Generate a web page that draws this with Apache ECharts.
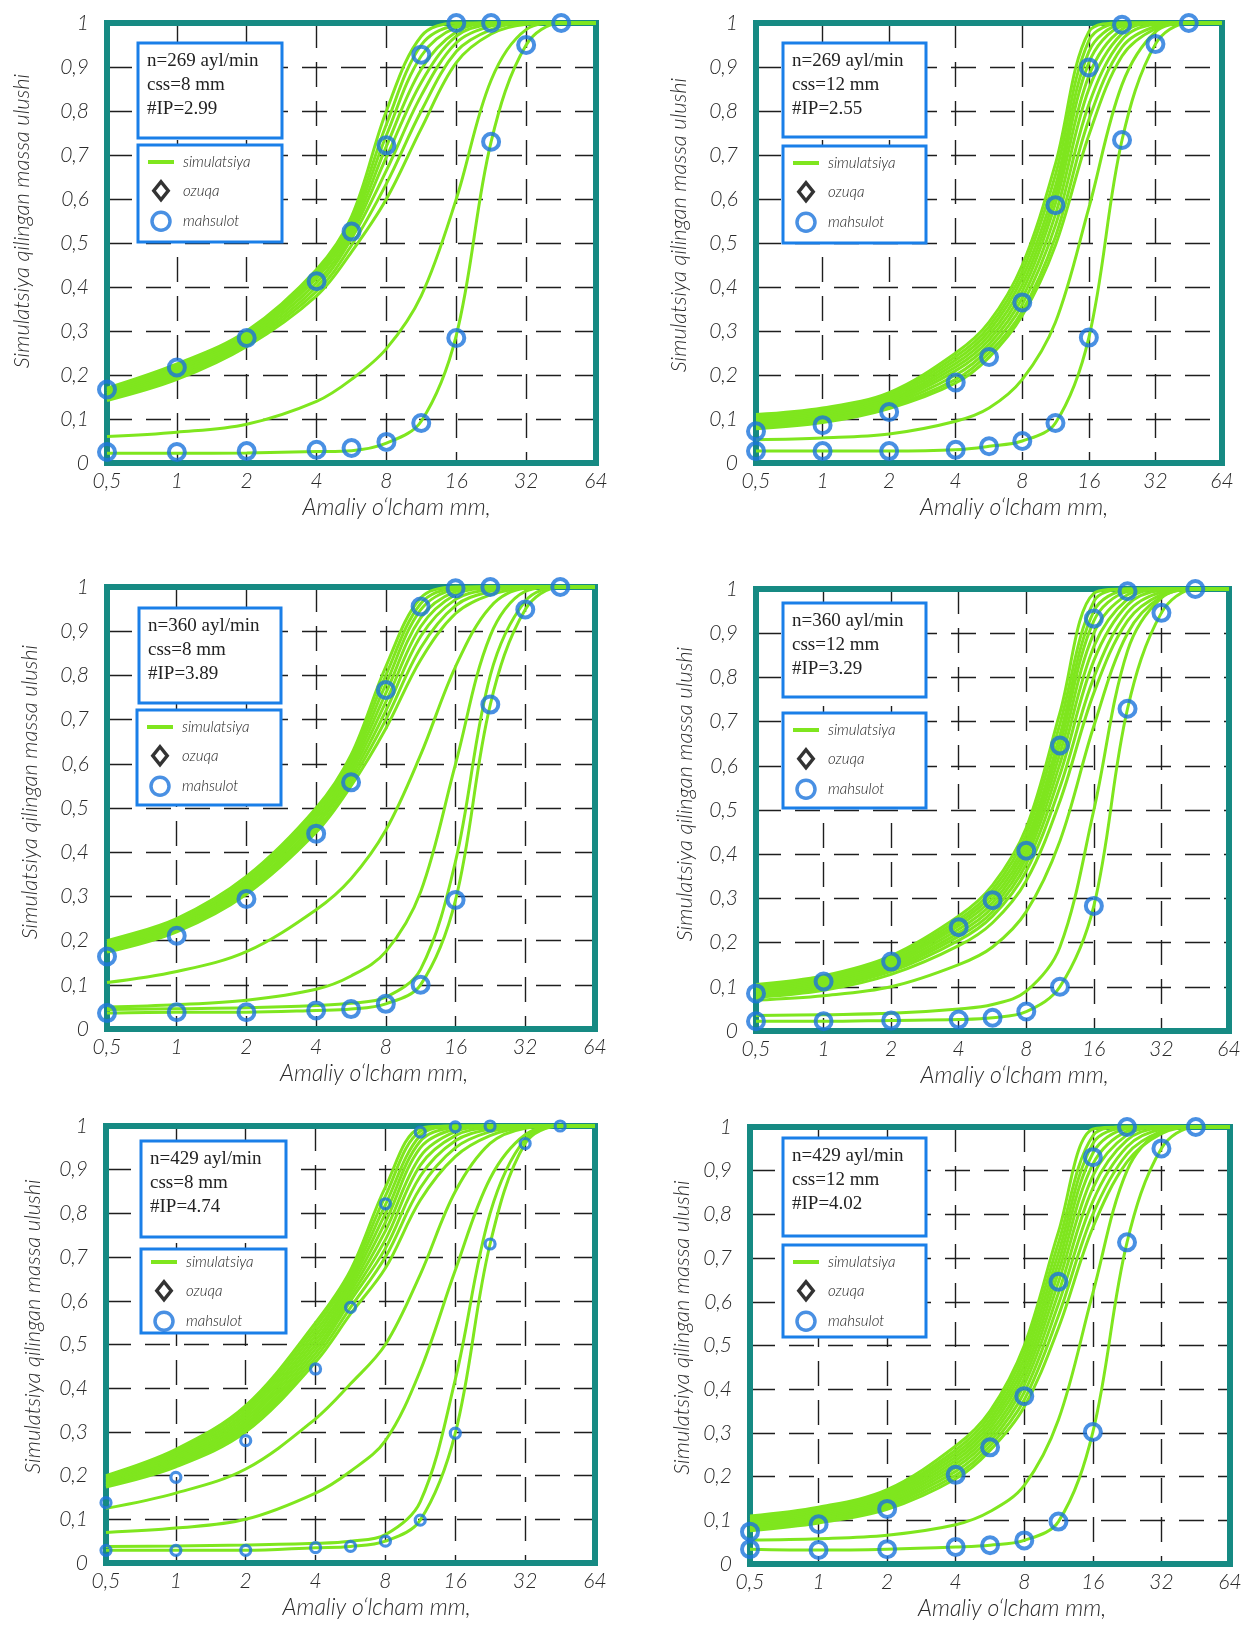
<!DOCTYPE html>
<html>
<head>
<meta charset="utf-8">
<script src="https://cdn.jsdelivr.net/npm/echarts@6/dist/echarts.min.js"></script>
<style>
  html, body { margin: 0; padding: 0; background: #fff; }
  #chart { width: 1249px; height: 1627px; }
</style>
</head>
<body>
<div id="chart"></div>
<script>
// sieve sizes, mm (log2 axis)
const sizes = [0.5, 1, 2, 4, 5.66, 8, 11.3, 16, 22.6, 32, 45.3, 64]
const upperSizes = [0.5, 1, 2, 4, 5.66, 8, 11.3, 16, 22.6]
const lowerSizes = [0.5, 1, 2, 4, 5.66, 8, 11.3, 16, 22.6, 32, 45.3]

const xTickLabels = ['0,5', '1', '2', '4', '8', '16', '32', '64']
const yTickLabels = ['0', '0,1', '0,2', '0,3', '0,4', '0,5', '0,6', '0,7', '0,8', '0,9', '1']

const infoTexts = [
  ['n=269 ayl/min', 'css=8 mm', '#IP=2.99'],
  ['n=269 ayl/min', 'css=12 mm', '#IP=2.55'],
  ['n=360 ayl/min', 'css=8 mm', '#IP=3.89'],
  ['n=360 ayl/min', 'css=12 mm', '#IP=3.29'],
  ['n=429 ayl/min', 'css=8 mm', '#IP=4.74'],
  ['n=429 ayl/min', 'css=12 mm', '#IP=4.02'],
]

// panel 1: n=269, css=8
const p1Sim = [
  [0.17, 0.225, 0.30, 0.44, 0.56, 0.80, 0.97, 1, 1, 1, 1, 1],
  [0.166, 0.22, 0.295, 0.435, 0.55, 0.77, 0.95, 0.995, 1, 1, 1, 1],
  [0.162, 0.215, 0.29, 0.428, 0.54, 0.745, 0.925, 0.99, 1, 1, 1, 1],
  [0.158, 0.21, 0.285, 0.42, 0.53, 0.72, 0.895, 0.98, 1, 1, 1, 1],
  [0.154, 0.205, 0.28, 0.41, 0.52, 0.695, 0.865, 0.97, 0.997, 1, 1, 1],
  [0.15, 0.2, 0.275, 0.40, 0.51, 0.665, 0.835, 0.955, 0.993, 1, 1, 1],
  [0.146, 0.195, 0.27, 0.39, 0.495, 0.635, 0.80, 0.935, 0.985, 1, 1, 1],
  [0.142, 0.19, 0.265, 0.38, 0.48, 0.60, 0.76, 0.91, 0.975, 0.997, 1, 1],
  [0.06, 0.07, 0.088, 0.14, 0.19, 0.26, 0.38, 0.60, 0.87, 0.985, 1, 1],
  [0.022, 0.022, 0.023, 0.026, 0.028, 0.045, 0.095, 0.29, 0.73, 0.95, 1, 1],
]
const p1Upper = [0.167, 0.217, 0.284, 0.413, 0.526, 0.722, 0.928, 1, 1]
const p1Lower = [0.025, 0.025, 0.027, 0.03, 0.034, 0.048, 0.091, 0.284, 0.73, 0.95, 1]

// panel 2: n=269, css=12
const p2Sim = [
  [0.11, 0.125, 0.16, 0.25, 0.32, 0.45, 0.68, 0.98, 1, 1, 1, 1],
  [0.106, 0.12, 0.155, 0.242, 0.31, 0.435, 0.655, 0.96, 1, 1, 1, 1],
  [0.102, 0.116, 0.15, 0.234, 0.30, 0.42, 0.63, 0.935, 0.997, 1, 1, 1],
  [0.098, 0.112, 0.145, 0.226, 0.29, 0.405, 0.61, 0.91, 0.993, 1, 1, 1],
  [0.094, 0.108, 0.14, 0.218, 0.28, 0.39, 0.59, 0.88, 0.986, 1, 1, 1],
  [0.09, 0.104, 0.136, 0.21, 0.27, 0.375, 0.565, 0.85, 0.976, 1, 1, 1],
  [0.086, 0.1, 0.132, 0.2, 0.26, 0.36, 0.54, 0.815, 0.962, 0.997, 1, 1],
  [0.082, 0.096, 0.128, 0.19, 0.25, 0.345, 0.515, 0.78, 0.945, 0.992, 1, 1],
  [0.078, 0.092, 0.124, 0.182, 0.24, 0.335, 0.495, 0.745, 0.925, 0.987, 1, 1],
  [0.053, 0.057, 0.066, 0.095, 0.125, 0.19, 0.32, 0.58, 0.86, 0.98, 1, 1],
  [0.027, 0.027, 0.027, 0.03, 0.038, 0.05, 0.091, 0.285, 0.734, 0.952, 1, 1],
]
const p2Upper = [0.072, 0.086, 0.116, 0.183, 0.241, 0.365, 0.586, 0.899, 0.996]
const p2Lower = [0.027, 0.027, 0.027, 0.03, 0.038, 0.05, 0.091, 0.285, 0.734, 0.952, 1]

// panel 3: n=360, css=8
const p3Sim = [
  [0.2, 0.25, 0.345, 0.5, 0.62, 0.82, 0.975, 1, 1, 1, 1, 1],
  [0.196, 0.245, 0.338, 0.492, 0.61, 0.80, 0.962, 0.998, 1, 1, 1, 1],
  [0.192, 0.24, 0.332, 0.484, 0.60, 0.78, 0.948, 0.995, 1, 1, 1, 1],
  [0.188, 0.236, 0.326, 0.476, 0.59, 0.76, 0.93, 0.99, 1, 1, 1, 1],
  [0.184, 0.232, 0.32, 0.468, 0.58, 0.74, 0.91, 0.983, 0.998, 1, 1, 1],
  [0.18, 0.228, 0.315, 0.46, 0.57, 0.72, 0.888, 0.972, 0.995, 1, 1, 1],
  [0.177, 0.224, 0.31, 0.452, 0.56, 0.70, 0.862, 0.958, 0.99, 1, 1, 1],
  [0.174, 0.22, 0.305, 0.445, 0.55, 0.68, 0.835, 0.94, 0.982, 0.998, 1, 1],
  [0.105, 0.13, 0.175, 0.27, 0.34, 0.45, 0.62, 0.82, 0.955, 0.997, 1, 1],
  [0.05, 0.055, 0.065, 0.09, 0.12, 0.175, 0.31, 0.6, 0.89, 0.99, 1, 1],
  [0.044, 0.046, 0.048, 0.053, 0.058, 0.072, 0.135, 0.38, 0.8, 0.968, 1, 1],
  [0.036, 0.038, 0.038, 0.042, 0.045, 0.057, 0.1, 0.292, 0.734, 0.949, 1, 1],
]
const p3Upper = [0.164, 0.211, 0.294, 0.442, 0.558, 0.767, 0.956, 0.997, 1]
const p3Lower = [0.036, 0.038, 0.038, 0.042, 0.045, 0.057, 0.1, 0.292, 0.734, 0.949, 1]

// panel 4: n=360, css=12
const p4Sim = [
  [0.105, 0.125, 0.17, 0.26, 0.33, 0.46, 0.72, 0.99, 1, 1, 1, 1],
  [0.101, 0.121, 0.165, 0.252, 0.32, 0.445, 0.695, 0.972, 1, 1, 1, 1],
  [0.097, 0.117, 0.16, 0.245, 0.31, 0.43, 0.67, 0.95, 0.998, 1, 1, 1],
  [0.094, 0.113, 0.155, 0.238, 0.30, 0.418, 0.65, 0.928, 0.994, 1, 1, 1],
  [0.09, 0.109, 0.15, 0.23, 0.29, 0.405, 0.628, 0.9, 0.987, 1, 1, 1],
  [0.087, 0.105, 0.145, 0.222, 0.28, 0.392, 0.605, 0.87, 0.977, 1, 1, 1],
  [0.084, 0.101, 0.14, 0.214, 0.27, 0.378, 0.58, 0.838, 0.964, 0.997, 1, 1],
  [0.08, 0.097, 0.135, 0.205, 0.26, 0.362, 0.552, 0.80, 0.947, 0.993, 1, 1],
  [0.076, 0.092, 0.128, 0.193, 0.245, 0.34, 0.52, 0.765, 0.928, 0.988, 1, 1],
  [0.07, 0.08, 0.1, 0.15, 0.19, 0.27, 0.43, 0.69, 0.9, 0.983, 1, 1],
  [0.035, 0.037, 0.04, 0.05, 0.06, 0.09, 0.19, 0.5, 0.86, 0.98, 1, 1],
  [0.022, 0.022, 0.024, 0.026, 0.03, 0.044, 0.1, 0.283, 0.729, 0.946, 1, 1],
]
const p4Upper = [0.085, 0.112, 0.157, 0.235, 0.296, 0.408, 0.646, 0.933, 0.995]
const p4Lower = [0.022, 0.022, 0.024, 0.026, 0.03, 0.044, 0.1, 0.283, 0.729, 0.946, 1]

// panel 5: n=429, css=8
const p5Sim = [
  [0.2, 0.26, 0.36, 0.55, 0.67, 0.86, 0.995, 1, 1, 1, 1, 1],
  [0.197, 0.255, 0.353, 0.54, 0.66, 0.84, 0.988, 1, 1, 1, 1, 1],
  [0.194, 0.25, 0.346, 0.53, 0.65, 0.82, 0.978, 0.999, 1, 1, 1, 1],
  [0.191, 0.245, 0.339, 0.52, 0.64, 0.80, 0.965, 0.997, 1, 1, 1, 1],
  [0.188, 0.24, 0.332, 0.51, 0.63, 0.78, 0.95, 0.993, 1, 1, 1, 1],
  [0.185, 0.236, 0.325, 0.50, 0.62, 0.76, 0.93, 0.987, 0.999, 1, 1, 1],
  [0.182, 0.232, 0.318, 0.49, 0.61, 0.74, 0.91, 0.978, 0.997, 1, 1, 1],
  [0.179, 0.228, 0.312, 0.48, 0.60, 0.72, 0.885, 0.966, 0.993, 1, 1, 1],
  [0.176, 0.224, 0.306, 0.47, 0.585, 0.70, 0.858, 0.95, 0.987, 0.999, 1, 1],
  [0.174, 0.22, 0.3, 0.46, 0.57, 0.675, 0.83, 0.93, 0.978, 0.997, 1, 1],
  [0.125, 0.16, 0.215, 0.33, 0.41, 0.50, 0.66, 0.85, 0.96, 0.995, 1, 1],
  [0.07, 0.08, 0.1, 0.16, 0.21, 0.28, 0.44, 0.67, 0.88, 0.98, 1, 1],
  [0.038, 0.039, 0.041, 0.045, 0.05, 0.065, 0.14, 0.42, 0.8, 0.97, 1, 1],
  [0.029, 0.029, 0.029, 0.035, 0.038, 0.05, 0.098, 0.297, 0.73, 0.96, 1, 1],
]
const p5Upper = [0.138, 0.196, 0.28, 0.444, 0.585, 0.822, 0.986, 0.998, 1]
const p5Lower = [0.029, 0.029, 0.029, 0.035, 0.038, 0.05, 0.098, 0.297, 0.73, 0.96, 1]

// panel 6: n=429, css=12
const p6Sim = [
  [0.11, 0.13, 0.17, 0.27, 0.35, 0.50, 0.76, 0.995, 1, 1, 1, 1],
  [0.106, 0.126, 0.165, 0.261, 0.34, 0.485, 0.735, 0.98, 1, 1, 1, 1],
  [0.102, 0.122, 0.16, 0.253, 0.33, 0.47, 0.712, 0.962, 0.999, 1, 1, 1],
  [0.098, 0.118, 0.155, 0.245, 0.32, 0.455, 0.69, 0.94, 0.996, 1, 1, 1],
  [0.094, 0.114, 0.15, 0.237, 0.31, 0.44, 0.668, 0.915, 0.99, 1, 1, 1],
  [0.09, 0.11, 0.145, 0.229, 0.30, 0.425, 0.645, 0.888, 0.982, 1, 1, 1],
  [0.086, 0.106, 0.14, 0.221, 0.29, 0.41, 0.62, 0.86, 0.97, 0.998, 1, 1],
  [0.082, 0.102, 0.135, 0.212, 0.28, 0.393, 0.595, 0.83, 0.955, 0.995, 1, 1],
  [0.079, 0.098, 0.13, 0.203, 0.27, 0.376, 0.568, 0.80, 0.938, 0.99, 1, 1],
  [0.076, 0.094, 0.125, 0.195, 0.26, 0.36, 0.54, 0.77, 0.92, 0.985, 1, 1],
  [0.055, 0.058, 0.066, 0.09, 0.12, 0.18, 0.33, 0.62, 0.9, 0.99, 1, 1],
  [0.034, 0.032, 0.034, 0.039, 0.043, 0.054, 0.097, 0.302, 0.736, 0.951, 1, 1],
]
const p6Upper = [0.074, 0.091, 0.126, 0.204, 0.267, 0.384, 0.646, 0.931, 1]
const p6Lower = [0.034, 0.032, 0.034, 0.039, 0.043, 0.054, 0.097, 0.302, 0.736, 0.951, 1]

const GREEN = '#7fe61e'
const BLUE = '#1b74dc'
const BOX = '#1a7fe8'
const FRAME = '#168a83'
const LABEL_FONT = 'Lato'

// layout per panel (pixels)
const panels = [
  { sim: p1Sim, upper: p1Upper, lower: p1Lower, grid: [107, 23, 489, 440], info: [138, 43, 144, 95], leg: [138, 145, 144, 97], yGap: 74, yUp: 22, xShift: 45, mark: 16, legTop: 8 },
  { sim: p2Sim, upper: p2Upper, lower: p2Lower, grid: [756, 23, 466, 440], info: [783, 43, 143, 94], leg: [783, 146, 143, 97], yGap: 66, yUp: 18, xShift: 25, mark: 16, legTop: 8 },
  { sim: p3Sim, upper: p3Upper, lower: p3Lower, grid: [107, 587, 488, 442], info: [139, 608, 142, 95], leg: [137, 710, 144, 95], yGap: 66, yUp: 16, xShift: 23, mark: 16, legTop: 8 },
  { sim: p4Sim, upper: p4Upper, lower: p4Lower, grid: [756, 589, 473, 442], info: [783, 603, 143, 94], leg: [783, 713, 143, 95], yGap: 60, yUp: 16, xShift: 22, mark: 16, legTop: 8 },
  { sim: p5Sim, upper: p5Upper, lower: p5Lower, grid: [106, 1126, 489, 437], info: [141, 1141, 145, 96], leg: [141, 1249, 145, 84], yGap: 62, yUp: 18, xShift: 26, mark: 10, legTop: 4 },
  { sim: p6Sim, upper: p6Upper, lower: p6Lower, grid: [750, 1127, 480, 437], info: [783, 1138, 143, 98], leg: [783, 1245, 143, 92], yGap: 57, yUp: 18, xShift: 22, mark: 16, legTop: 8 },
]

const labelStyle = {
  fontFamily: LABEL_FONT,
  fontStyle: 'italic',
  fontWeight: 300,
  color: '#2a2a2a',
}
const gridLine = { color: '#1e1e1e', width: 1.4, type: [25, 14] }

const legendItems = [
  { name: 'simulatsiya', icon: 'path://M0,0H26V4H0Z', itemStyle: { color: GREEN, borderWidth: 0 } },
  { name: 'ozuqa', icon: 'path://M8,0L16,10L8,20L0,10Z', itemStyle: { color: '#fff', borderColor: '#000', borderWidth: 3.5 } },
  { name: 'mahsulot', icon: 'circle', itemStyle: { color: '#fff', borderColor: BLUE, borderWidth: 3.5 } },
]

const grids = []
const xAxes = []
const yAxes = []
const series = []
const legends = []
const graphics = []

panels.forEach((p, k) => {
  const [gl, gt, gw, gh] = p.grid
  grids.push({ left: gl, top: gt, width: gw, height: gh, containLabel: false })

  xAxes.push({
    gridIndex: k,
    type: 'log',
    logBase: 2,
    min: 0.5,
    max: 64,
    axisLine: { show: false },
    axisTick: { show: false },
    axisLabel: {
      ...labelStyle,
      fontSize: 21,
      margin: 8,
      showMinLabel: true,
      showMaxLabel: true,
      formatter: (v) => xTickLabels[Math.round(Math.log2(v)) + 1],
    },
    splitLine: { show: true, showMinLine: false, showMaxLine: false, lineStyle: gridLine },
    name: 'Amaliy o‘lcham mm,',
    nameLocation: 'middle',
    nameGap: 33,
    nameTextStyle: { ...labelStyle, fontSize: 23, padding: [0, 0, 0, p.xShift * 2] },
  })

  yAxes.push({
    gridIndex: k,
    type: 'value',
    min: 0,
    max: 1,
    interval: 0.1,
    axisLine: { show: false },
    axisTick: { show: false },
    axisLabel: {
      ...labelStyle,
      fontSize: 21,
      margin: 18,
      formatter: (v) => yTickLabels[Math.round(v * 10)],
    },
    splitLine: { show: true, showMinLine: false, showMaxLine: false, lineStyle: gridLine },
    name: 'Simulatsiya qilingan massa ulushi',
    nameLocation: 'middle',
    nameGap: p.yGap,
    nameTextStyle: { ...labelStyle, fontSize: 22, padding: [0, 0, 0, p.yUp * 2] },
  })

  p.sim.forEach((vals) => {
    series.push({
      type: 'line',
      name: 'simulatsiya',
      xAxisIndex: k,
      yAxisIndex: k,
      data: sizes.map((s, i) => [s, vals[i]]),
      smooth: 0.35,
      symbol: 'none',
      clip: false,
      silent: true,
      z: 3,
      lineStyle: { color: GREEN, width: 3 },
      itemStyle: { color: GREEN },
    })
  })

  const ring = {
    type: 'scatter',
    name: 'mahsulot',
    xAxisIndex: k,
    yAxisIndex: k,
    symbol: 'circle',
    symbolSize: p.mark,
    silent: true,
    z: 5,
    itemStyle: { color: 'rgba(255,255,255,0)', borderColor: BLUE, borderWidth: p.mark > 12 ? 4 : 3.2 },
  }
  series.push({ ...ring, data: upperSizes.map((s, i) => [s, p.upper[i]]) })
  series.push({ ...ring, data: lowerSizes.map((s, i) => [s, p.lower[i]]) })

  // teal frame
  graphics.push({
    type: 'rect',
    z: 1,
    silent: true,
    shape: { x: gl, y: gt, width: gw, height: gh },
    style: { fill: null, stroke: FRAME, lineWidth: 6 },
  })

  // info box
  const [ix, iy, iw, ih] = p.info
  graphics.push({
    type: 'rect',
    z: 10,
    silent: true,
    shape: { x: ix, y: iy, width: iw, height: ih },
    style: { fill: '#fff', stroke: BOX, lineWidth: 3 },
  })
  infoTexts[k].forEach((t, j) => {
    graphics.push({
      type: 'text',
      z: 11,
      silent: true,
      x: ix + 9,
      y: iy + 9 + j * 24,
      style: { text: t, font: '19px "Liberation Serif"', fill: '#222', verticalAlign: 'top' },
    })
  })

  // legend box
  const [lx, ly, lw, lh] = p.leg
  graphics.push({
    type: 'rect',
    z: 10,
    silent: true,
    shape: { x: lx, y: ly, width: lw, height: lh },
    style: { fill: '#fff', stroke: BOX, lineWidth: 3 },
  })
  legends.push({
    left: lx + 10,
    top: ly + p.legTop,
    orient: 'vertical',
    padding: 0,
    itemGap: 9,
    itemWidth: 26,
    itemHeight: 18,
    selectedMode: false,
    z: 12,
    data: legendItems,
    textStyle: { ...labelStyle, fontSize: 15, lineHeight: 18, color: '#222', padding: [0, 0, 0, 4] },
  })
})

// feed marker, legend only
series.push({
  type: 'scatter',
  name: 'ozuqa',
  xAxisIndex: 0,
  yAxisIndex: 0,
  data: [],
  symbol: 'diamond',
  itemStyle: { color: '#fff', borderColor: '#000', borderWidth: 3.5 },
})

const chart = echarts.init(document.getElementById('chart'))
chart.setOption({
  animation: false,
  backgroundColor: '#fff',
  grid: grids,
  xAxis: xAxes,
  yAxis: yAxes,
  legend: legends,
  graphic: graphics,
  series: series,
})
</script>
</body>
</html>
